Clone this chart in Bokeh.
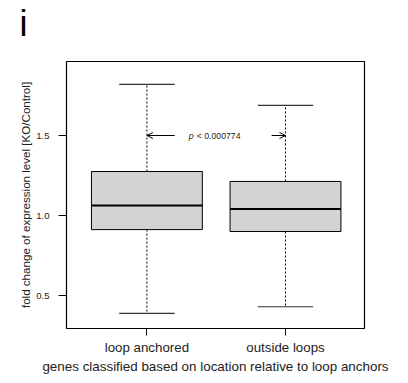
from bokeh.plotting import figure
from bokeh.models import (Range1d, FixedTicker, Label, Arrow, OpenHead, ColumnDataSource, Title)
from bokeh.embed import file_html
from bokeh.resources import INLINE

# Box statistics for the two gene groups
categories = ["loop anchored", "outside loops"]
positions = [1, 2]
lower_whisker = [0.388, 0.430]
q1 = [0.912, 0.900]
median = [1.062, 1.040]
q3 = [1.275, 1.213]
upper_whisker = [1.819, 1.688]
p_label = "< 0.000774"
y_ticks = [0.5, 1.0, 1.5]

box_w = 0.8
cap_w = 0.4

p = figure(width=408, height=383, output_backend="svg", toolbar_location=None,
           x_range=Range1d(0.42, 2.57), y_range=Range1d(0.294, 1.9625),
           min_border_left=66, min_border_right=44, min_border_top=61, min_border_bottom=55)

p.xgrid.visible = False
p.ygrid.visible = False
p.background_fill_color = "white"
p.border_fill_color = "white"
p.outline_line_color = "black"
p.outline_line_width = 1.2

font = "Liberation Sans"

# blank strip between the frame and the panel letter
p.add_layout(Title(text=" ", standoff=0, text_font=font, text_font_size="14px"), "above")
# panel letter
p.add_layout(Title(text="i", align="left", offset=-47, standoff=0,
                   text_font=font, text_font_size="36px", text_font_style="normal",
                   text_color="black"), "above")

# axes
p.yaxis.ticker = FixedTicker(ticks=y_ticks)
p.yaxis.major_label_overrides = {t: f"{t:.1f}" for t in y_ticks}
p.yaxis.axis_line_color = None
p.yaxis.minor_tick_line_color = None
p.yaxis.major_tick_out = 8
p.yaxis.major_tick_in = 0
p.yaxis.major_label_standoff = 9
p.yaxis.major_label_text_font = font
p.yaxis.major_label_text_font_size = "9.5px"
p.yaxis.major_label_text_color = "#222222"
p.yaxis.axis_label = "fold change of expression level [KO/Control]"
p.yaxis.axis_label_text_font = font
p.yaxis.axis_label_text_font_style = "normal"
p.yaxis.axis_label_text_font_size = "11.6px"
p.yaxis.axis_label_text_color = "#222222"
p.yaxis.axis_label_standoff = 1

p.xaxis.ticker = FixedTicker(ticks=positions)
p.xaxis.major_label_overrides = {pos: c for pos, c in zip(positions, categories)}
p.xaxis.axis_line_color = None
p.xaxis.minor_tick_line_color = None
p.xaxis.major_tick_out = 7
p.xaxis.major_tick_in = 0
p.xaxis.major_label_standoff = 4
p.xaxis.major_label_text_font = font
p.xaxis.major_label_text_font_size = "13.3px"
p.xaxis.major_label_text_color = "#222222"
p.xaxis.axis_label = "genes classified based on location relative to loop anchors"
p.xaxis.axis_label_text_font = font
p.xaxis.axis_label_text_font_style = "normal"
p.xaxis.axis_label_text_font_size = "13.4px"
p.xaxis.axis_label_text_color = "#222222"
p.xaxis.axis_label_standoff = 1

src = ColumnDataSource(dict(
    x=positions, lw=lower_whisker, q1=q1, med=median, q3=q3, uw=upper_whisker,
    left=[x - box_w / 2 for x in positions], right=[x + box_w / 2 for x in positions],
    cl=[x - cap_w / 2 for x in positions], cr=[x + cap_w / 2 for x in positions],
))

# whiskers
p.segment(x0="x", y0="q3", x1="x", y1="uw", source=src, line_color="black",
          line_dash="2 2", line_width=1)
p.segment(x0="x", y0="q1", x1="x", y1="lw", source=src, line_color="black",
          line_dash="2 2", line_width=1)
# staples
p.segment(x0="cl", y0="uw", x1="cr", y1="uw", source=src, line_color="#333333", line_width=1.2)
p.segment(x0="cl", y0="lw", x1="cr", y1="lw", source=src, line_color="#333333", line_width=1.2)
# boxes
p.quad(left="left", right="right", bottom="q1", top="q3", source=src,
       fill_color="#d3d3d3", line_color="black", line_width=1)
# medians
p.segment(x0="left", y0="med", x1="right", y1="med", source=src, line_color="black", line_width=2)

# significance annotation between the two groups
y_sig = 1.5
p.add_layout(Arrow(end=OpenHead(size=6, line_width=1), x_start=1.2, y_start=y_sig,
                   x_end=positions[0], y_end=y_sig, line_width=1))
p.add_layout(Arrow(end=OpenHead(size=6, line_width=1), x_start=1.9, y_start=y_sig,
                   x_end=positions[1], y_end=y_sig, line_width=1))
p.add_layout(Label(x=1.302, y=y_sig, text="p", text_font=font, text_font_style="italic",
                   text_font_size="8.7px", text_baseline="middle", text_align="left",
                   text_color="#222222"))
p.add_layout(Label(x=1.36, y=y_sig, text=p_label, text_font=font,
                   text_font_size="8.7px", text_baseline="middle", text_align="left",
                   text_color="#222222"))

open("out.html", "w").write(file_html(p, INLINE))
